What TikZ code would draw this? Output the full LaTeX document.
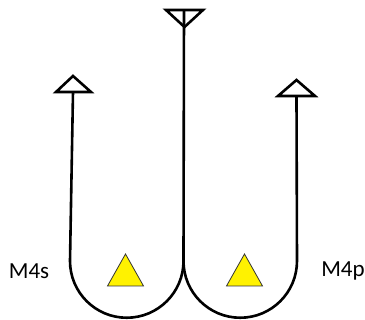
\documentclass[tikz,border=0pt]{standalone}
\usepackage{fontspec}
\setmainfont{Carlito}
\begin{document}
\begin{tikzpicture}[x=1pt,y=-1pt,
  wire/.style={line width=2.6pt,line join=round},
  tip/.style={line width=2.6pt,line join=miter},
  mark3/.style={fill=yellow,draw=black!80,line width=0.8pt},
  lab/.style={font=\fontsize{23}{23}\selectfont,inner sep=0pt}]
\useasboundingbox (0,0) rectangle (365,320);
\coordinate (lt) at (73,92);
\coordinate (lb) at (70,261);
\coordinate (c) at (183.5,261);
\coordinate (ct) at (184,10);
\coordinate (rt) at (296.5,96);
\coordinate (rb) at (297,261);
\draw[tip] (56,92) -- (73,76) -- (91,92) -- cycle;
\draw[tip] (166,10) -- (203,10) -- (184.5,27) -- cycle;
\draw[tip] (278,96) -- (296.5,80) -- (315,96) -- cycle;
\draw[wire] (lt) -- (lb) arc[start angle=180,end angle=0,radius=56.75];
\draw[wire] (ct) -- (c);
\draw[wire] (c) arc[start angle=180,end angle=0,radius=56.75] -- (rt);
\draw[mark3] (125.5,254) -- (143.5,286) -- (107.5,286) -- cycle;
\draw[mark3] (244.5,254) -- (262.5,286) -- (226.5,286) -- cycle;
\node[lab] (m4s) at (29,271) {M4s};
\node[lab] (m4p) at (343,271) {M4p};
\end{tikzpicture}
\end{document}
